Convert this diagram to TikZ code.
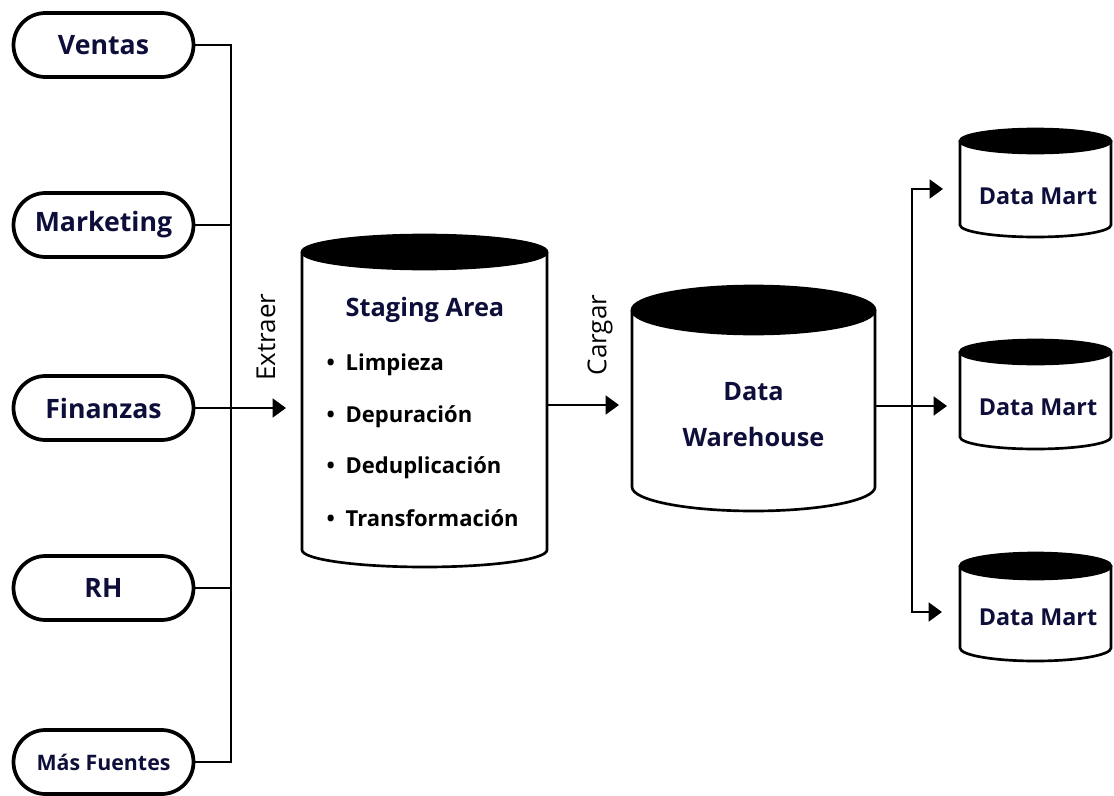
\documentclass[tikz,border=0pt]{standalone}
\usepackage{fontspec}
\setmainfont{Open Sans}
\usepackage{tikz}
\usetikzlibrary{arrows.meta}

\definecolor{navytext}{RGB}{14,14,58}

% cylinder: x left, x right, y of top ellipse, y of bottom ellipse, y radius
\newcommand{\dbcyl}[5]{%
\draw [line width=2pt, fill=white] (#1,#3) -- (#1,#4) .. controls (#1,{#4+0.552*#5}) and ({(#1+#2)/2-0.552*(#2-#1)/2},{#4+#5}) .. ({(#1+#2)/2},{#4+#5}) .. controls ({(#1+#2)/2+0.552*(#2-#1)/2},{#4+#5}) and (#2,{#4+0.552*#5}) .. (#2,#4) -- (#2,#3) ;
\filldraw [line width=2pt] ({(#1+#2)/2},#3) ellipse [x radius={(#2-#1)/2}, y radius=#5] ;
}

\tikzset{
  src/.style={draw, line width=2.8pt, rounded corners=24pt, minimum width=135pt, minimum height=48pt, font=\fontsize{20}{24}\selectfont\bfseries, text=navytext},
  conn/.style={line width=2.1pt},
  flow/.style={conn, -{Triangle[length=10pt,width=14pt]}},
  lbl/.style={font=\fontsize{19.5}{23}\selectfont, rotate=90},
  dbtitle/.style={font=\fontsize{19}{23}\selectfont\bfseries, text=navytext},
  item/.style={anchor=west, font=\fontsize{16.5}{20}\selectfont\bfseries},
}

\begin{document}
\begin{tikzpicture}[x=0.75pt,y=0.75pt,yscale=-1,xscale=1]
\useasboundingbox (0,0) rectangle (1114,796);

% Sources
\node [src] (ventas) at (103.5,45) {Ventas};
\node [src] (mkt) at (103.5,225) {Marketing};
\node [src] (fin) at (103.5,408) {Finanzas};
\node [src] (rh) at (103.5,588) {RH};
\node [src, font=\fontsize{16}{19}\selectfont\bfseries] (mas) at (103.5,762) {Más Fuentes};

% Bus
\coordinate (bus) at (231,408);
\coordinate (extin) at (286,408);
\draw [conn] (ventas.east) -| (bus) |- (mas.east);
\draw [conn] (mkt.east) -- (mkt.east -| bus);
\draw [conn] (rh.east) -- (rh.east -| bus);
\draw [flow] (fin.east) -- (extin);
\node [lbl] (extraer) at (266,337) {Extraer};

% Staging area
\dbcyl{302}{547}{252}{550}{17}
\node [dbtitle] (stg) at (425,310) {Staging Area};
\node [item] (limp) at (322,365) {\textbullet\hspace{8pt}Limpieza};
\node [item] (depu) at (322,417) {\textbullet\hspace{8pt}Depuración};
\node [item] (dedu) at (322,468) {\textbullet\hspace{8pt}Deduplicación};
\node [item] (trans) at (322,518) {\textbullet\hspace{8pt}Transformación};

% Load
\coordinate (stgout) at (547,405);
\coordinate (dwin) at (619,405);
\draw [flow] (stgout) -- (dwin);
\node [lbl] (cargar) at (600,335) {Cargar};

% Data warehouse
\dbcyl{632}{875}{310}{487}{24}
\node [dbtitle, align=center, font=\fontsize{19}{34.5}\selectfont\bfseries] (dw) at (753.5,415) {Data\\Warehouse};

% Split to data marts
\coordinate (dwout) at (875,406);
\coordinate (split) at (912,406);
\coordinate (dm1in) at (943,189);
\coordinate (dm2in) at (947,406);
\coordinate (dm3in) at (942,612);
\draw [flow] (dwout) -- (dm2in);
\draw [flow] (split) |- (dm1in);
\draw [flow] (split) |- (dm3in);

% Data marts
\dbcyl{960}{1111}{141}{225}{12}
\dbcyl{960}{1111}{352}{437}{12}
\dbcyl{960}{1111}{566}{648}{13}
\node [dbtitle, font=\fontsize{17.5}{21}\selectfont\bfseries] (dm1) at (1038,196) {Data Mart};
\node [dbtitle, font=\fontsize{17.5}{21}\selectfont\bfseries] (dm2) at (1038,407) {Data Mart};
\node [dbtitle, font=\fontsize{17.5}{21}\selectfont\bfseries] (dm3) at (1038,617) {Data Mart};

\end{tikzpicture}
\end{document}
